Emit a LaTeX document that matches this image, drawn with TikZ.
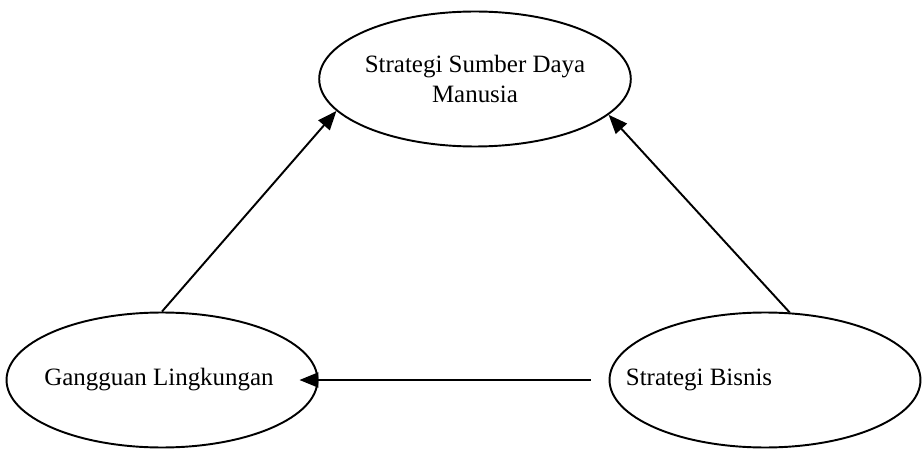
\documentclass[tikz,border=0pt]{standalone}
\usepackage{fontspec}
\setmainfont{Liberation Serif}
\usetikzlibrary{positioning,arrows.meta,calc,shapes.geometric}

\begin{document}
\begin{tikzpicture}[x=0.02cm, y=-0.02cm,
        ebox/.style={draw, ellipse, line width=1.1pt, align=center, inner sep=0pt,
                     minimum width=6.22cm, minimum height=2.7cm,
                     font=\fontsize{14.2pt}{17pt}\selectfont},
        lbl/.style={inner sep=0pt, font=\fontsize{14.2pt}{17pt}\selectfont},
        arr/.style={-{Triangle[length=0.38cm, width=0.3cm]}, line width=1.1pt}
    ]
    \useasboundingbox (0,0) rectangle (923,449);
    \node[ebox] (sdm) at (475,79) {Strategi Sumber Daya\\Manusia};
    \node[ebox] (lingk) at (162,380) {};
    \node[lbl] (lingktxt) at (159,380) {Gangguan Lingkungan};
    \node[ebox] (bisnis) at (765,380) {};
    \node[lbl, right=0.34cm of bisnis.west] (bisnistxt) {Strategi Bisnis};
    \draw[arr] (lingk.north) -- (sdm.193);
    \draw[arr] (bisnis.70) -- (sdm.345);
    \draw[arr, shorten <=0.36cm, shorten >=-0.38cm] (bisnis.west) -- (lingk.east);
\end{tikzpicture}
\end{document}
